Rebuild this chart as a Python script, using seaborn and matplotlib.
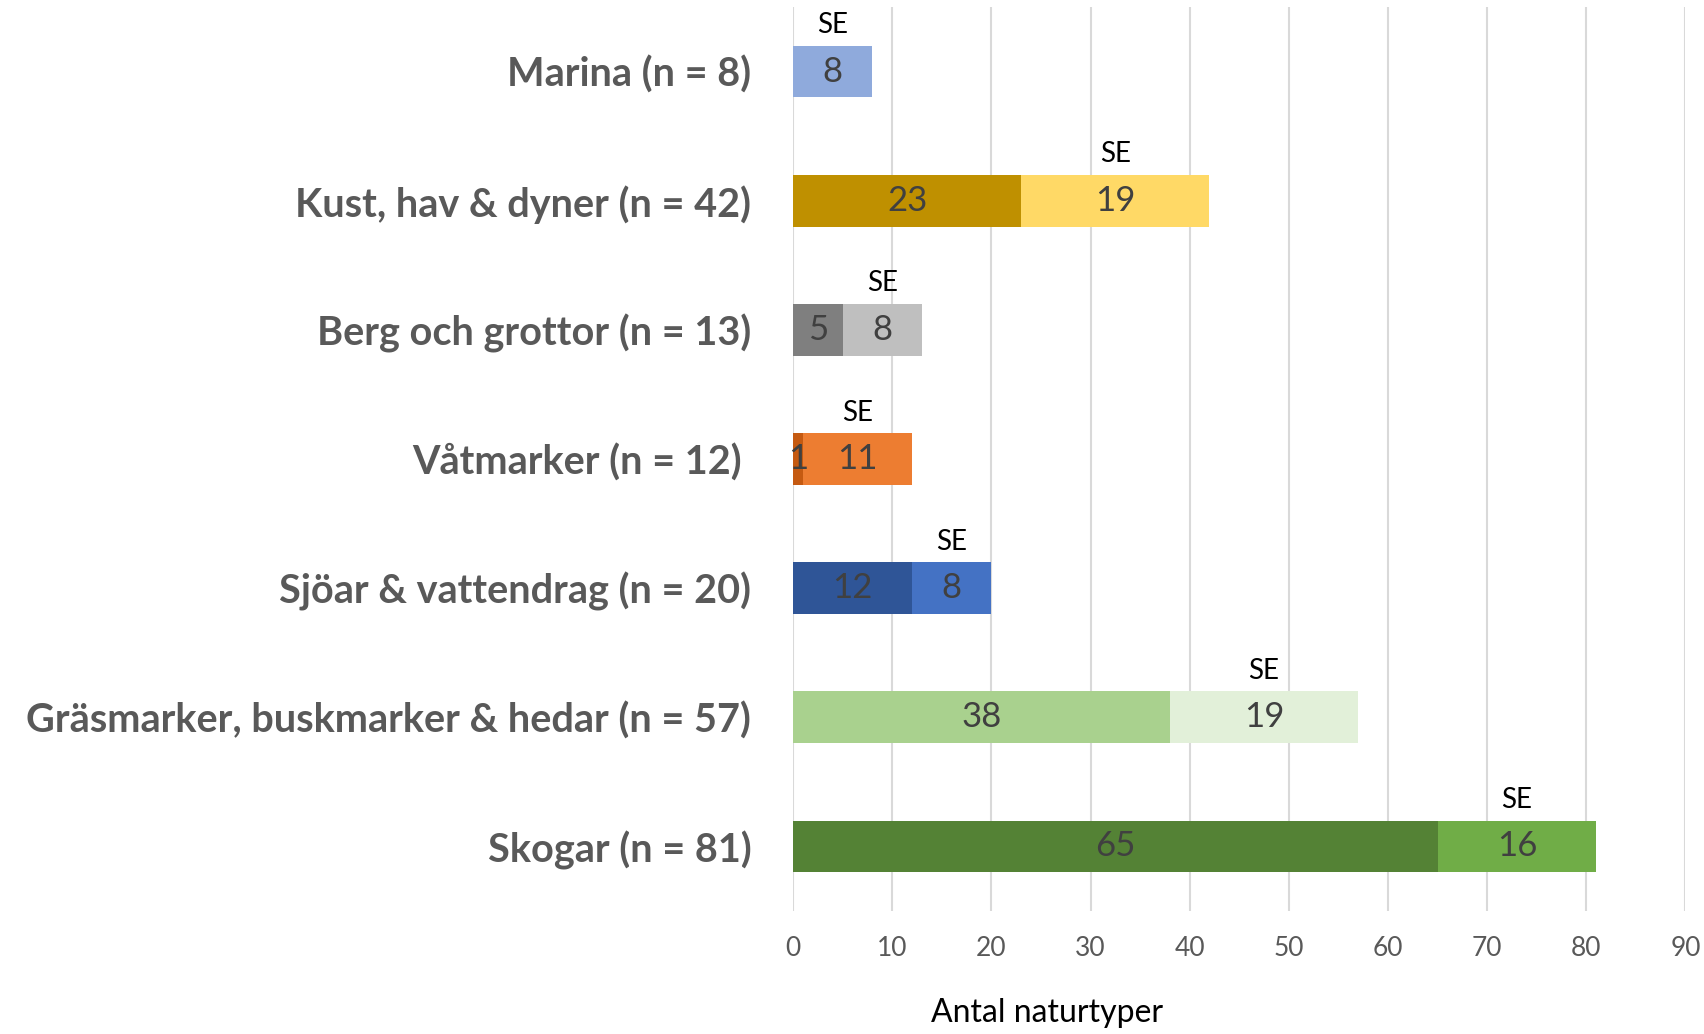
import matplotlib
matplotlib.use("Agg")
import matplotlib.pyplot as plt
import seaborn as sns
import pandas as pd

categories = [
    "Marina (n = 8)",
    "Kust, hav & dyner (n = 42)",
    "Berg och grottor (n = 13)",
    "Våtmarker (n = 12) ",
    "Sjöar & vattendrag (n = 20)",
    "Gräsmarker, buskmarker & hedar (n = 57)",
    "Skogar (n = 81)",
]
first_values = [0, 23, 5, 1, 12, 38, 65]
se_values = [8, 19, 8, 11, 8, 19, 16]
first_colors = ["#8FAADC", "#BF9000", "#7F7F7F", "#C55A11", "#2F5597", "#A9D18E", "#548235"]
se_colors = ["#8FAADC", "#FFD966", "#BFBFBF", "#ED7D31", "#4472C4", "#E2F0D9", "#70AD47"]
se_label = "SE"
x_ticks = [0, 10, 20, 30, 40, 50, 60, 70, 80, 90]
x_label = "Antal naturtyper"

sns.set_theme(style="white")
plt.rcParams["font.family"] = ["Lato", "DejaVu Sans"]

df = pd.DataFrame({"cat": categories, "first": first_values, "se": se_values})
df["total"] = df["first"] + df["se"]

fig = plt.figure(figsize=(17.04, 10.34), dpi=100)
ax = fig.add_axes([0.4654, 0.119, 0.9891 - 0.4654, 0.9932 - 0.119])

sns.barplot(data=df, x="total", y="cat", hue="cat", palette=se_colors,
            legend=False, width=0.4, saturation=1, ax=ax, zorder=2,
            linewidth=0, edgecolor="none")
sns.barplot(data=df, x="first", y="cat", hue="cat", palette=first_colors,
            legend=False, width=0.4, saturation=1, ax=ax, zorder=3,
            linewidth=0, edgecolor="none")

for i, (f, s) in enumerate(zip(first_values, se_values)):
    if f > 0:
        ax.text(f / 2, i, str(f), ha="center", va="center", fontsize=25,
                color="#404040", zorder=5)
    ax.text(f + s / 2, i, str(s), ha="center", va="center", fontsize=25,
            color="#404040", zorder=5)
    ax.text(f + s / 2, i - 0.36, se_label, ha="center", va="center",
            fontsize=20, color="black", zorder=5)

ax.set_xlim(0, 90)
ax.set_ylim(6.5, -0.5)
ax.set_xticks(x_ticks)
ax.set_xticklabels([str(t) for t in x_ticks])
ax.grid(axis="x", color="#D9D9D9", linewidth=1.5, zorder=0)
ax.grid(axis="y", visible=False)
ax.set_axisbelow(True)
for sp in ax.spines.values():
    sp.set_visible(False)
ax.tick_params(axis="x", length=0, pad=18, labelsize=19, labelcolor="#595959")
ax.tick_params(axis="y", length=0, pad=30, labelsize=28.5, labelcolor="#595959")
for lbl in ax.get_yticklabels():
    lbl.set_fontweight("bold")
ax.set_ylabel("")
ax.set_xlabel(x_label, fontsize=23, color="black")
ax.xaxis.set_label_coords(0.285, -0.113)
ax.xaxis.label.set_va("center")

fig.savefig("out.png", dpi=100)
